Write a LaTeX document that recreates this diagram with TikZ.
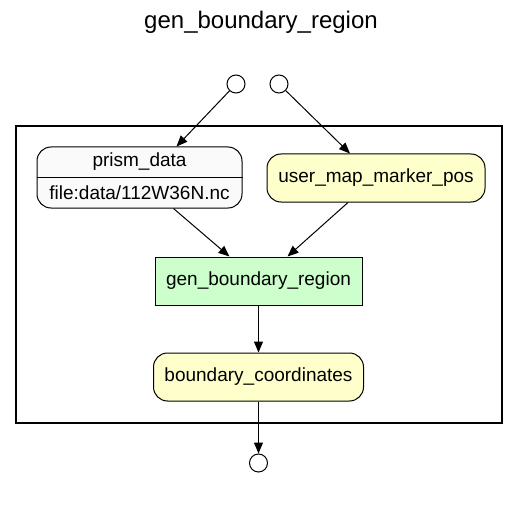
\documentclass[tikz,border=0pt]{standalone}
\usepackage{fontspec}
\setmainfont{Liberation Sans}
\usetikzlibrary{arrows.meta}
\definecolor{dataY}{HTML}{FFFFCC}
\definecolor{procG}{HTML}{CCFFCC}
\definecolor{fileW}{HTML}{FAFAFA}
\tikzset{
  every node/.style={font=\fontsize{19}{22}\selectfont, inner sep=0pt},
  term/.style={circle, draw, line width=1pt, minimum size=18pt, fill=white},
  dataBox/.style={draw, line width=1pt, rounded corners=14pt, fill=dataY},
  procBox/.style={draw, line width=1pt, fill=procG},
  arr/.style={line width=1pt, -{Triangle[length=11pt,width=9pt]}},
}
\begin{document}
\begin{tikzpicture}[x=1pt,y=-1pt]
\useasboundingbox (0,0) rectangle (523,511);
\node (title) at (261,22) {\fontsize{24}{28}\selectfont gen\_boundary\_region};
\node[draw, line width=2pt, minimum width=486pt, minimum height=297pt] (cluster) at (259,274.5) {};
\node[term] (in1) at (236,84) {};
\node[term] (in2) at (279,84) {};
\node[term] (out) at (258.5,463) {};
\node[draw, line width=1pt, rounded corners=14pt, fill=fileW, minimum width=205pt, minimum height=61pt] (prism) at (139.5,177.5) {};
\draw[line width=1pt] (prism.west |- 0,178) -- (prism.east |- 0,178);
\node (prismT) at (139.5,162) {prism\_data};
\node (prismF) at (139.5,193) {file:data/112W36N.nc};
\node[dataBox, minimum width=218pt, minimum height=48pt] (user) at (376,178) {user\_map\_marker\_pos};
\node[procBox, minimum width=207pt, minimum height=48pt] (gen) at (258.5,281) {gen\_boundary\_region};
\node[dataBox, minimum width=210pt, minimum height=48pt] (bc) at (258.5,377) {boundary\_coordinates};
\draw[arr] (in1) -- ([xshift=37pt]prism.north);
\draw[arr] (in2) -- ([xshift=-26pt]user.north);
\draw[arr] ([xshift=34pt]prism.south) -- ([xshift=-29pt]gen.north);
\draw[arr] ([xshift=-28pt]user.south) -- ([xshift=29pt]gen.north);
\draw[arr] (gen) -- (bc);
\draw[arr] (bc) -- (out);
\end{tikzpicture}
\end{document}
